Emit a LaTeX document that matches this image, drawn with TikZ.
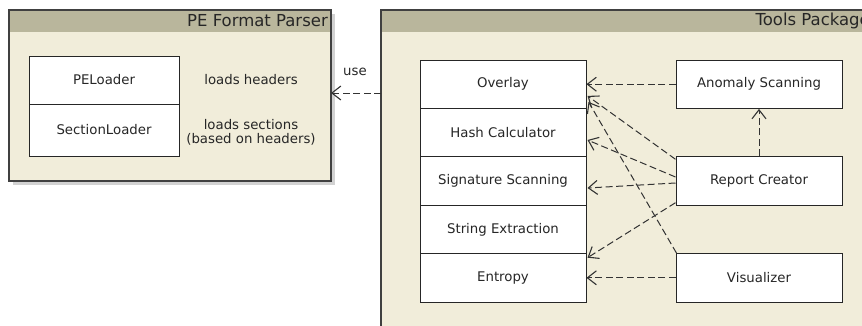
\documentclass[tikz,border=0pt]{standalone}
\usepackage{fontspec}
\setmainfont{DejaVu Sans}
\usetikzlibrary{arrows.meta,calc}
\definecolor{pkgbody}{HTML}{F1EDDA}
\definecolor{pkgtitle}{HTML}{B9B69C}
\definecolor{pkgshadow}{HTML}{D2D2D2}
\definecolor{edgecol}{HTML}{333333}
\tikzset{
  box/.style={draw=black!85, line width=1pt, fill=white, minimum width=166pt, minimum height=48.4pt, inner sep=0pt, font=\fontsize{13.3}{15}\selectfont, text=black!85},
  smallbox/.style={draw=black!85, line width=1pt, fill=white, minimum width=150pt, inner sep=0pt, font=\fontsize{13.3}{15}\selectfont, text=black!85},
  note/.style={font=\fontsize{13.3}{15}\selectfont, text=black!85, align=center, inner sep=0pt},
  dep/.style={draw=edgecol, line width=1pt, dash pattern=on 7pt off 3.5pt, -{Straight Barb[length=9pt,width=14pt,line width=1.1pt]}},
  frame/.style={draw=black!75, line width=1.2pt},
  ptitle/.style={font=\fontsize{16.5}{18}\selectfont, text=black!85, inner sep=0pt, anchor=east}
}
\begin{document}
\begin{tikzpicture}[x=1pt,y=-1pt]
\useasboundingbox (0,0) rectangle (862,325);
\clip (0,0) rectangle (862,325);
% left package
\fill[pkgshadow] (13,14) rectangle (335,185);
\fill[pkgbody] (9,10) rectangle (331,181);
\fill[pkgtitle] (9,10) rectangle (331,32);
\draw[frame] (9,10) rectangle (331,181);
\node[ptitle] (petitle) at (328,21) {PE Format Parser};
\coordinate (peright) at (331,93);
% right package
\fill[pkgshadow] (385,14) rectangle (878,334);
\fill[pkgbody] (381,10) rectangle (874,330);
\fill[pkgtitle] (381,10) rectangle (874,32);
\draw[frame] (381,10) rectangle (874,330);
\node[ptitle] (tooltitle) at (870,21) {Tools Package};
\coordinate (toolsleft) at (381,93);
% PE parser contents
\node[smallbox, minimum height=48pt] (peloader) at (104,80) {PELoader};
\node[smallbox, minimum height=52pt] (secloader) at (104,130) {SectionLoader};
\node[note] (lh) at (251,80) {loads headers};
\node[note] (ls) at (251,132.5) {loads sections\\[-1pt](based on headers)};
% tools column
\node[box] (overlay) at (503,84.2) {Overlay};
\node[box] (hash) at (503,132.6) {Hash Calculator};
\node[box] (sig) at (503,181) {Signature Scanning};
\node[box] (str) at (503,229.4) {String Extraction};
\node[box] (ent) at (503,277.8) {Entropy};
% right boxes
\node[box] (anom) at (759,84.2) {Anomaly Scanning};
\node[box] (rep) at (759,181) {Report Creator};
\node[box] (vis) at (759,277.8) {Visualizer};
% use dependency
\draw[dep] (toolsleft) -- (peright);
\node[note] (uselbl) at (355,72) {use};
% dependencies
\draw[dep] (anom.west) -- (overlay.east);
\draw[dep] (rep.north) -- (anom.south);
\draw[dep] ($(rep.north west)+(0,3)$) -- ($(overlay.south east)+(1,-13)$);
\draw[dep] ($(rep.west)+(0,-4)$) -- ($(hash.east)+(1,7.4)$);
\draw[dep] ($(rep.west)+(0,2)$) -- ($(sig.east)+(1,7)$);
\draw[dep] ($(rep.south west)+(0,-3)$) -- ($(ent.north east)+(1,4.6)$);
\draw[dep] ($(vis.north west)+(1,0)$) -- ($(overlay.south east)+(2,-7)$);
\draw[dep] (vis.west) -- (ent.east);
\end{tikzpicture}
\end{document}
